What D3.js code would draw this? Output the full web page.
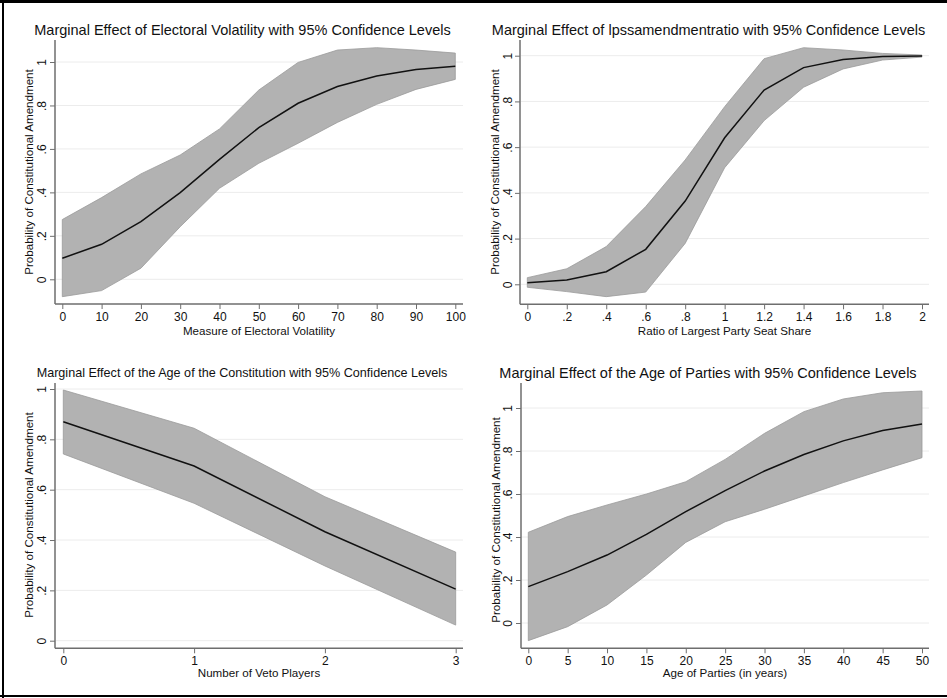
<!DOCTYPE html>
<html>
<head>
<meta charset="utf-8">
<script src="https://cdn.jsdelivr.net/npm/d3@7"></script>
<style>
  body { margin: 0; background: #fff; }
  svg { display: block; font-family: "Liberation Sans", Arial, sans-serif; }
</style>
</head>
<body>
<script>
// ---- data ----
const yTicks = [0, 0.2, 0.4, 0.6, 0.8, 1];

const volX = [0, 10, 20, 30, 40, 50, 60, 70, 80, 90, 100];
const volMean = [0.097, 0.161, 0.265, 0.399, 0.552, 0.698, 0.810, 0.887, 0.936, 0.965, 0.980];
const volHi = [0.275, 0.376, 0.485, 0.572, 0.692, 0.871, 0.998, 1.055, 1.066, 1.055, 1.041];
const volLo = [-0.080, -0.052, 0.051, 0.242, 0.419, 0.534, 0.626, 0.722, 0.805, 0.874, 0.920];

const ratioX = [0, 0.2, 0.4, 0.6, 0.8, 1, 1.2, 1.4, 1.6, 1.8, 2];
const ratioMean = [0.007, 0.019, 0.055, 0.153, 0.364, 0.641, 0.850, 0.948, 0.983, 0.996, 0.999];
const ratioHi = [0.029, 0.068, 0.165, 0.340, 0.544, 0.777, 0.987, 1.035, 1.025, 1.010, 1.003];
const ratioLo = [-0.013, -0.032, -0.054, -0.034, 0.179, 0.510, 0.716, 0.862, 0.942, 0.981, 0.994];

const vetoX = [0, 1, 2, 3];
const vetoMean = [0.870, 0.694, 0.433, 0.205];
const vetoHi = [0.996, 0.844, 0.572, 0.352];
const vetoLo = [0.742, 0.546, 0.297, 0.062];

const ageX = [0, 5, 10, 15, 20, 25, 30, 35, 40, 45, 50];
const ageMean = [0.169, 0.239, 0.316, 0.412, 0.518, 0.616, 0.707, 0.784, 0.847, 0.895, 0.926];
const ageHi = [0.422, 0.495, 0.549, 0.600, 0.657, 0.761, 0.882, 0.983, 1.042, 1.071, 1.079];
const ageLo = [-0.082, -0.017, 0.084, 0.223, 0.375, 0.471, 0.529, 0.591, 0.653, 0.712, 0.769];

const yLabel = "Probability of Constitutional Amendment";

const width = 947;
const height = 698;

const svg = d3.select("body").append("svg")
  .attr("width", width)
  .attr("height", height);

// frame: top, left, bottom
svg.append("rect").attr("x", 0).attr("y", 0).attr("width", width).attr("height", 3).attr("fill", "#000");
svg.append("rect").attr("x", 2).attr("y", 0).attr("width", 2).attr("height", height).attr("fill", "#000");
svg.append("rect").attr("x", 0).attr("y", 695).attr("width", width).attr("height", 2).attr("fill", "#000");

// stata-like number format: 0, .2, .4 ... 1
function stataFmt(v) {
  if (v === 0) return "0";
  if (Number.isInteger(v)) return String(v);
  return String(+v.toFixed(2)).replace(/^0\./, ".");
}

function drawPanel(p) {
  const g = svg.append("g");
  const x = d3.scaleLinear().domain(p.xDomain).range(p.xRange);
  const y = d3.scaleLinear().domain([0, 1]).range(p.yRange);

  // gridlines
  g.selectAll("line.grid")
    .data(yTicks)
    .join("line")
    .attr("x1", p.axisX + 1)
    .attr("x2", p.axisRight)
    .attr("y1", d => y(d))
    .attr("y2", d => y(d))
    .attr("stroke", "#ececec")
    .attr("stroke-width", 1);

  const rows = p.xs.map((v, i) => ({ x: v, m: p.mean[i], lo: p.lo[i], hi: p.hi[i] }));

  const area = d3.area()
    .x(d => x(d.x))
    .y0(d => y(d.lo))
    .y1(d => y(d.hi));

  g.append("path")
    .datum(rows)
    .attr("d", area)
    .attr("fill", "#b2b2b2")
    .attr("stroke", "#9a9a9a")
    .attr("stroke-width", 0.8);

  const line = d3.line()
    .x(d => x(d.x))
    .y(d => y(d.m));

  g.append("path")
    .datum(rows)
    .attr("d", line)
    .attr("fill", "none")
    .attr("stroke", "#111")
    .attr("stroke-width", 1.5);

  // axes
  const xAxis = d3.axisBottom(x)
    .tickValues(p.xTicks)
    .tickFormat(stataFmt)
    .tickSize(5)
    .tickSizeOuter(0)
    .tickPadding(3);

  const xg = g.append("g")
    .attr("transform", `translate(0,${p.axisBottom})`)
    .call(xAxis);
  xg.select(".domain").remove();
  xg.append("line")
    .attr("x1", p.axisX).attr("x2", p.axisRight)
    .attr("stroke", "#6e6e6e").attr("stroke-width", 1.5);
  xg.selectAll(".tick line").attr("stroke", "#6e6e6e");
  xg.selectAll(".tick text")
    .attr("fill", "#111")
    .style("font-size", "12px")
    .style("font-family", "Liberation Sans, Arial, sans-serif");

  const yAxis = d3.axisLeft(y)
    .tickValues(yTicks)
    .tickFormat(stataFmt)
    .tickSize(5)
    .tickSizeOuter(0);

  const yg = g.append("g")
    .attr("transform", `translate(${p.axisX},0)`)
    .call(yAxis);
  yg.select(".domain").remove();
  yg.append("line")
    .attr("y1", p.axisTop).attr("y2", p.axisBottom)
    .attr("stroke", "#6e6e6e").attr("stroke-width", 1.5);
  yg.selectAll(".tick line").attr("stroke", "#6e6e6e");
  yg.selectAll(".tick text")
    .attr("x", 0)
    .attr("y", 0)
    .attr("dy", "0.35em")
    .attr("fill", "#111")
    .attr("text-anchor", "middle")
    .attr("transform", `translate(${p.yTickX - p.axisX},0) rotate(-90)`)
    .style("font-size", "12px")
    .style("font-family", "Liberation Sans, Arial, sans-serif");

  // titles and labels
  g.append("text")
    .attr("x", p.titleX)
    .attr("y", p.titleY)
    .attr("text-anchor", "middle")
    .style("font-size", p.titleSize + "px")
    .attr("fill", "#111")
    .text(p.title);

  g.append("text")
    .attr("x", (p.axisX + p.axisRight) / 2)
    .attr("y", p.xLabelY)
    .attr("text-anchor", "middle")
    .style("font-size", "11.6px")
    .attr("fill", "#111")
    .text(p.xLabel);

  g.append("text")
    .attr("transform", `translate(${p.yLabelX},${p.yLabelY}) rotate(-90)`)
    .attr("text-anchor", "middle")
    .attr("dy", "0.35em")
    .style("font-size", "11.6px")
    .attr("fill", "#111")
    .text(yLabel);
}

drawPanel({
  title: "Marginal Effect of Electoral Volatility with 95% Confidence Levels",
  titleX: 242.5, titleY: 35, titleSize: 14.5,
  xLabel: "Measure of Electoral Volatility", xLabelY: 335,
  xs: volX, mean: volMean, lo: volLo, hi: volHi,
  xDomain: [0, 100], xRange: [62.3, 455.3], xTicks: volX,
  yRange: [279.3, 62],
  axisX: 55, axisRight: 463, axisTop: 40, axisBottom: 304,
  yTickX: 42, yLabelX: 29, yLabelY: 172
});

drawPanel({
  title: "Marginal Effect of lpssamendmentratio with 95% Confidence Levels",
  titleX: 708.5, titleY: 35, titleSize: 14.5,
  xLabel: "Ratio of Largest Party Seat Share", xLabelY: 335,
  xs: ratioX, mean: ratioMean, lo: ratioLo, hi: ratioHi,
  xDomain: [0, 2], xRange: [527.3, 922], xTicks: ratioX,
  yRange: [284.3, 55.7],
  axisX: 520, axisRight: 929, axisTop: 40, axisBottom: 304.3,
  yTickX: 508, yLabelX: 495, yLabelY: 172
});

drawPanel({
  title: "Marginal Effect of the Age of the Constitution with 95% Confidence Levels",
  titleX: 242, titleY: 377, titleSize: 12.6,
  xLabel: "Number of Veto Players", xLabelY: 677,
  xs: vetoX, mean: vetoMean, lo: vetoLo, hi: vetoHi,
  xDomain: [0, 3], xRange: [63.3, 455.7], xTicks: vetoX,
  yRange: [640.7, 389],
  axisX: 55, axisRight: 463, axisTop: 383, axisBottom: 648.3,
  yTickX: 42, yLabelX: 29, yLabelY: 515
});

drawPanel({
  title: "Marginal Effect of the Age of Parties with 95% Confidence Levels",
  titleX: 708, titleY: 378, titleSize: 14.5,
  xLabel: "Age of Parties (in years)", xLabelY: 677,
  xs: ageX, mean: ageMean, lo: ageLo, hi: ageHi,
  xDomain: [0, 50], xRange: [528.3, 922], xTicks: ageX,
  yRange: [623, 408],
  axisX: 521, axisRight: 929, axisTop: 383, axisBottom: 648.3,
  yTickX: 508, yLabelX: 496, yLabelY: 520
});
</script>
</body>
</html>
